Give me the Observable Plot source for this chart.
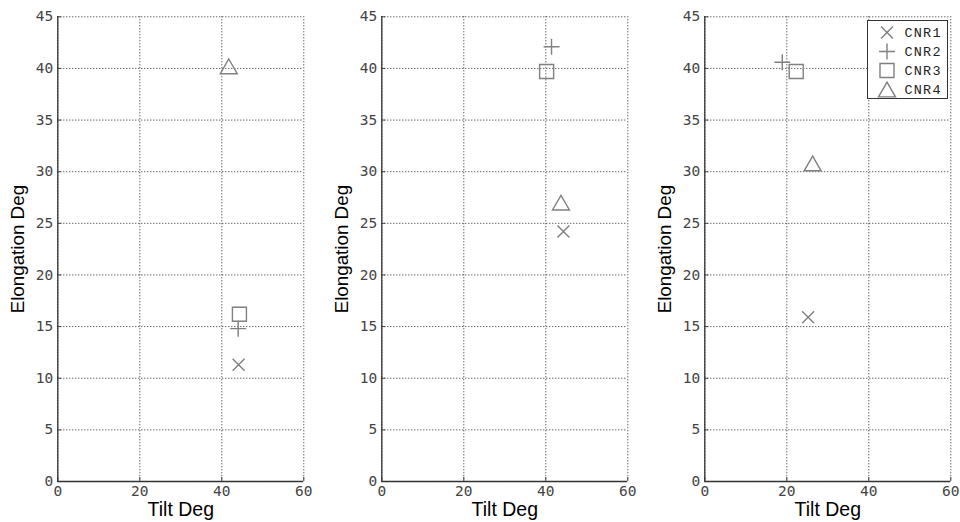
<!DOCTYPE html>
<html>
<head>
<meta charset="utf-8">
<script src="https://cdn.jsdelivr.net/npm/d3@7"></script>
<script src="https://cdn.jsdelivr.net/npm/@observablehq/plot@0.6"></script>
<style>
  html, body { margin: 0; padding: 0; background: #fff; }
  #chart { position: relative; width: 960px; height: 522px; overflow: hidden; }
  #chart > svg { position: absolute; top: 0; }
</style>
</head>
<body>
<div id="chart"></div>
<script>
// ---- data ----
const series = ["CNR1", "CNR2", "CNR3", "CNR4"];
const symbols = ["times", "plus", "square", "triangle"];
// panel 1
const tilt1  = [44.1, 44.0, 44.3, 41.7];
const elong1 = [11.3, 14.8, 16.2, 40.2];
// panel 2
const tilt2  = [44.3, 41.4, 40.2, 43.7];
const elong2 = [24.2, 42.1, 39.7, 27.0];
// panel 3
const tilt3  = [25.2, 18.9, 22.3, 26.3];
const elong3 = [15.9, 40.6, 39.7, 30.8];
const xTicks = [0, 20, 40, 60];
const yTicks = [0, 5, 10, 15, 20, 25, 30, 35, 40, 45];
const xLabel = "Tilt Deg";
const yLabel = "Elongation Deg";

// ---- style ----
const markerColor = "#808080";
const markerR = {times: 5.5, plus: 5.2, square: 7.9, triangle: 6.3};
const markerDy = {times: 0, plus: 0, square: 0, triangle: 2.45};
const tickFont = "DejaVu Sans Mono";
const labelFont = "Liberation Sans";
const panelW = 323.6;

function panel(tilt, elong) {
  const data = series.map((s, i) => ({series: s, symbol: symbols[i], tilt: tilt[i], elong: elong[i]}));
  const gridStyle = {stroke: "#000", strokeOpacity: 0.85, strokeWidth: 1, strokeDasharray: "1,2"};
  return Plot.plot({
    width: panelW,
    height: 522,
    marginLeft: 57.3,
    marginRight: 20.3,
    marginTop: 16.3,
    marginBottom: 41,
    style: {background: "transparent", overflow: "visible"},
    x: {domain: [0, 60]},
    y: {domain: [0, 45]},
    marks: [
      Plot.gridX(xTicks, gridStyle),
      Plot.gridY(yTicks, gridStyle),
      Plot.axisX(xTicks, {tickSize: -4, tickPadding: 8, fontSize: 14.5, fontFamily: tickFont, color: "#444", label: null}),
      Plot.axisY(yTicks, {tickSize: -4, tickPadding: 8.6, fontSize: 14.5, fontFamily: tickFont, color: "#444", label: null}),
      Plot.ruleX([0], {stroke: "#333", strokeWidth: 1.3}),
      Plot.ruleY([0], {stroke: "#333", strokeWidth: 1.3}),
      ...symbols.map(sym => Plot.dot(data.filter(d => d.symbol === sym), {
        x: "tilt", y: "elong", symbol: sym, r: markerR[sym], dy: markerDy[sym],
        fill: "none", stroke: markerColor, strokeWidth: 1.4
      })),
      Plot.text([xLabel], {frameAnchor: "bottom", lineAnchor: "top", dy: 20.5, fontSize: 19.5, fontFamily: labelFont, fill: "#000"}),
      Plot.text([yLabel], {frameAnchor: "left", rotate: -90, lineAnchor: "middle", textAnchor: "middle", dx: -39.5, fontSize: 18.8, fontFamily: labelFont, fill: "#000"})
    ]
  });
}

const chart = document.getElementById("chart");
[[tilt1, elong1], [tilt2, elong2], [tilt3, elong3]].forEach(([t, e], i) => {
  const svg = panel(t, e);
  svg.style.left = (i * panelW) + "px";
  chart.appendChild(svg);
});

// ---- legend (upper right of third panel) ----
const symbolTypes = {times: d3.symbolTimes, plus: d3.symbolPlus, square: d3.symbolSquare, triangle: d3.symbolTriangle};
const legend = d3.create("svg")
  .attr("width", 82).attr("height", 80)
  .style("position", "absolute").style("left", "866.5px").style("top", "19.5px");
legend.append("rect").attr("x", 0.5).attr("y", 0.5).attr("width", 80).attr("height", 78)
  .attr("fill", "#fff").attr("stroke", "#333").attr("stroke-width", 1);
const rows = legend.selectAll("g").data(series).join("g")
  .attr("transform", (d, i) => `translate(0,${12.5 + i * 19})`);
rows.append("path")
  .attr("transform", (d, i) => `translate(20,${markerDy[symbols[i]]})`)
  .attr("d", (d, i) => d3.symbol(symbolTypes[symbols[i]], Math.PI * markerR[symbols[i]] ** 2)())
  .attr("fill", "none").attr("stroke", markerColor).attr("stroke-width", 1.4);
rows.append("text")
  .attr("x", 37.5).attr("dy", "0.35em")
  .attr("font-family", "Liberation Mono").attr("font-size", 13.5).attr("letter-spacing", "1.2px")
  .attr("fill", "#222")
  .text(d => d);
chart.appendChild(legend.node());
</script>
</body>
</html>
